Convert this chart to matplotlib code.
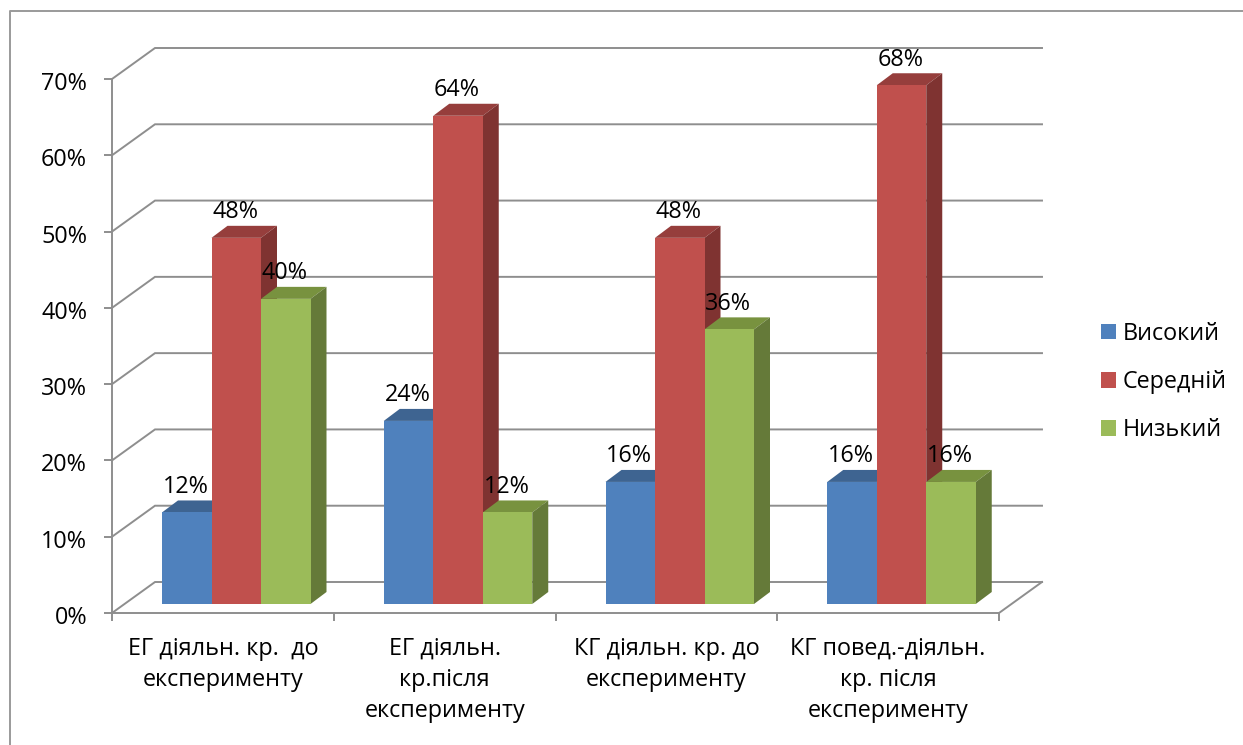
import matplotlib
matplotlib.use("Agg")
import matplotlib.pyplot as plt
from matplotlib.lines import Line2D
from matplotlib.patches import Patch, Polygon
from matplotlib.transforms import ScaledTranslation

plt.rcParams['font.family'] = ['Open Sans', 'DejaVu Sans']

categories = ["ЕГ діяльн. кр.  до\nексперименту",
              "ЕГ діяльн.\nкр.після\nексперименту",
              "КГ діяльн. кр. до\nексперименту",
              "КГ повед.-діяльн.\nкр. після\nексперименту"]
series_names = ["Високий", "Середній", "Низький"]
vysokyi = [12, 24, 16, 16]
serednii = [48, 64, 48, 68]
nyzkyi = [40, 12, 36, 16]
y_ticks = [0, 10, 20, 30, 40, 50, 60, 70]

front_colors = ["#4F81BD", "#C0504D", "#9BBB59"]
top_colors = ["#3E6491", "#963E3C", "#78923F"]
side_colors = ["#395A82", "#7F3331", "#657A39"]
GREY = "#8E8E8E"
FS = 16.8

W, H = 1243, 745
fig = plt.figure(figsize=(W / 100, H / 100), dpi=100)
ax = fig.add_axes([112 / W, 1 - 613 / H, (999 - 112) / W, (613 - 79) / H])
ax.set_xlim(0, 4)
ax.set_ylim(0, 70)
ax.patch.set_visible(False)

# sizes of the fake 3D box, in data units
px_x = 4 / (999 - 112)
px_y = 70 / (613 - 79)
wall_dx, wall_dy = 43 * px_x, 31 * px_y
bar_dx, bar_dy = 16 * px_x, 12 * px_y
base_dx, base_dy = 13.5 * px_x, 9 * px_y
bar_w = 49.5 * px_x
group_pad = 36.5 * px_x

# back wall and left wall gridlines
for v in y_ticks:
    ax.plot([0, wall_dx, 4 + wall_dx], [v, v + wall_dy, v + wall_dy],
            color=GREY, lw=1.4, clip_on=False, zorder=1, solid_joinstyle='miter')
ax.plot([4, 4 + wall_dx], [0, wall_dy], color=GREY, lw=1.4, clip_on=False, zorder=1)

# draw bars left to right so each one covers the side of the previous
z = 3
for i in range(len(categories)):
    for j, vals in enumerate([vysokyi, serednii, nyzkyi]):
        x0 = i + group_pad + base_dx + j * bar_w
        x1 = x0 + bar_w
        y0 = base_dy
        y1 = base_dy + vals[i]
        ax.add_patch(Polygon([(x0, y1), (x1, y1), (x1 + bar_dx, y1 + bar_dy), (x0 + bar_dx, y1 + bar_dy)],
                             facecolor=top_colors[j], edgecolor='none', clip_on=False, zorder=z))
        ax.add_patch(Polygon([(x1, y0), (x1 + bar_dx, y0 + bar_dy), (x1 + bar_dx, y1 + bar_dy), (x1, y1)],
                             facecolor=side_colors[j], edgecolor='none', clip_on=False, zorder=z))
        ax.add_patch(Polygon([(x0, y0), (x1, y0), (x1, y1), (x0, y1)],
                             facecolor=front_colors[j], edgecolor='none', clip_on=False, zorder=z + 0.5))
        ax.text((x0 + x1) / 2 - 1 * px_x, y1 + 25.5 * px_y, f"{vals[i]}%", ha='center', va='center',
                fontsize=FS, color='black', zorder=20, clip_on=False)
        z += 1

for s in ['top', 'right']:
    ax.spines[s].set_visible(False)
for s in ['left', 'bottom']:
    ax.spines[s].set_color(GREY)
    ax.spines[s].set_linewidth(1.4)

ax.set_yticks(y_ticks)
ax.set_yticklabels([f"{v}%" for v in y_ticks])
ax.tick_params(axis='y', length=6, width=1.4, color=GREY, pad=12, labelsize=FS)
# y labels sit a little under their ticks
down = ScaledTranslation(0, -2 / 100, fig.dpi_scale_trans)
for lab in ax.get_yticklabels():
    lab.set_transform(lab.get_transform() + down)

ax.set_xticks([0, 1, 2, 3, 4])
ax.set_xticklabels([])
ax.tick_params(axis='x', which='major', length=6, width=1.4, color=GREY)
ax.set_xticks([0.5, 1.5, 2.5, 3.5], minor=True)
ax.set_xticklabels(categories, minor=True, fontsize=FS, linespacing=1.4)
ax.tick_params(axis='x', which='minor', length=0, pad=17)

handles = [Patch(facecolor=c, edgecolor='none') for c in front_colors]
fig.legend(handles, series_names, loc='center left', bbox_to_anchor=(1091.5 / W, 1 - 382 / H),
           frameon=False, fontsize=FS, handlelength=0.64, handleheight=0.64,
           handletextpad=0.3, labelspacing=1.03, borderpad=0.4, borderaxespad=0)

# outer border of the chart area
fig.add_artist(Line2D([9.5 / W, 9.5 / W, 1], [0, 1 - 10.5 / H, 1 - 10.5 / H],
                      color="#9A9A9A", lw=1.4, transform=fig.transFigure))

fig.savefig("out.png", dpi=100, facecolor='white')
